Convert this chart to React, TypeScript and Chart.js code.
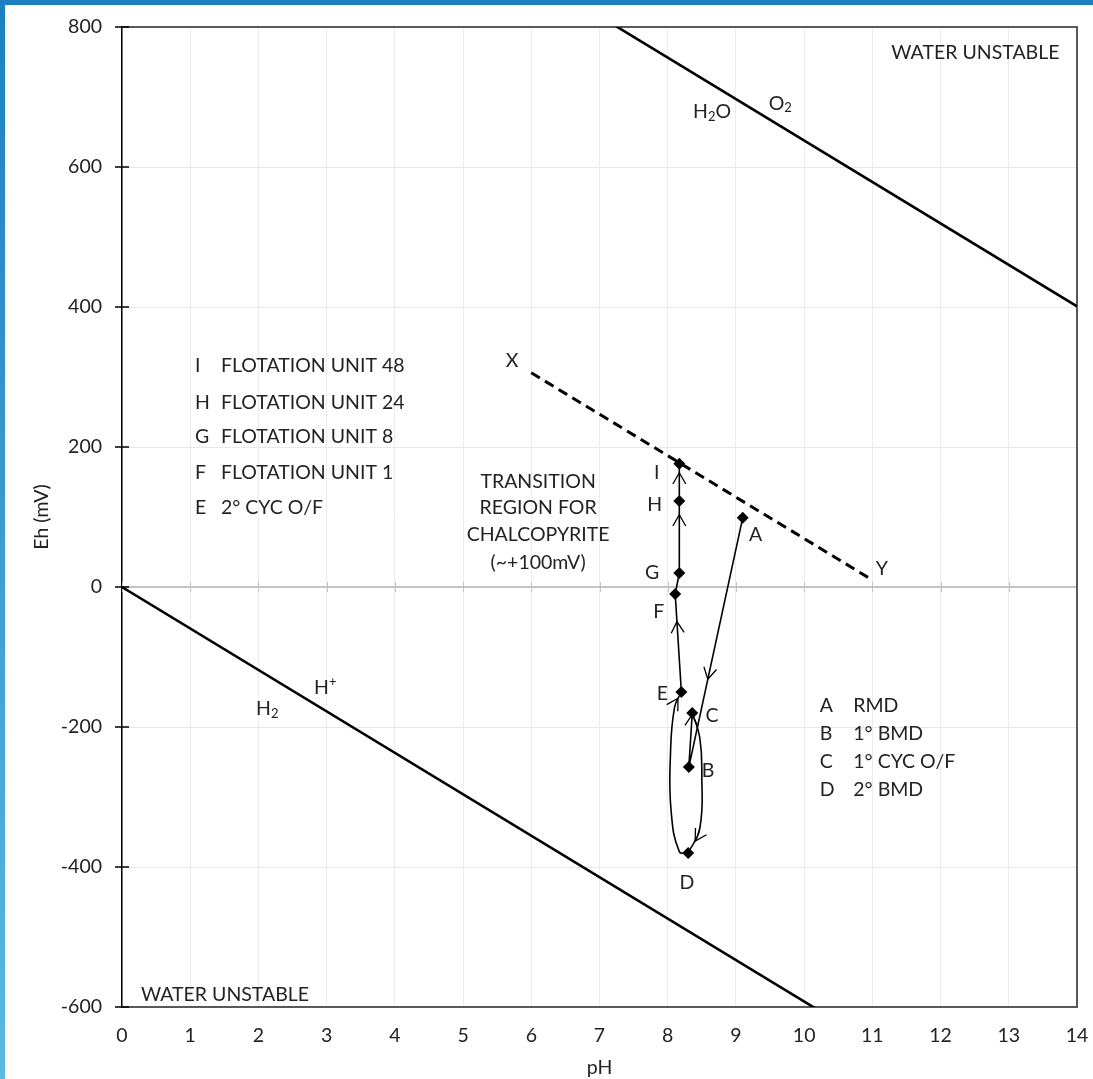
import React, { useEffect, useRef } from 'react';
import { Chart, registerables } from 'chart.js';

Chart.register(...registerables);

// ---------- data ----------
const xTicks = [0, 1, 2, 3, 4, 5, 6, 7, 8, 9, 10, 11, 12, 13, 14];
const yTicks = [-600, -400, -200, 0, 200, 400, 600, 800];

// sample points A..I (pH, Eh mV)
const pointNames = ['A', 'B', 'C', 'D', 'E', 'F', 'G', 'H', 'I'];
const pointPH = [9.1, 8.31, 8.36, 8.3, 8.2, 8.11, 8.17, 8.17, 8.17];
const pointEh = [99, -257, -180, -380, -150, -10, 20, 123, 176];

// curved connectors (intermediate path points)
const curveCDpH = [8.47, 8.5, 8.47];
const curveCDEh = [-215, -270, -345];
const curveDEpH = [8.17, 8.05, 8.04, 8.1];
const curveDEEh = [-378, -320, -240, -172];

// water stability lines
const waterPH = [0, 14];
const o2Eh = [1230, 401];
const h2Eh = [0, -829];

// X–Y chalcopyrite transition line
const xyPH = [6, 11];
const xyEh = [306, 10];

// legend texts
const leftLegendLetters = ['I', 'H', 'G', 'F', 'E'];
const leftLegendText = ['FLOTATION UNIT 48', 'FLOTATION UNIT 24', 'FLOTATION UNIT 8', 'FLOTATION UNIT 1', '2° CYC O/F'];
const rightLegendLetters = ['A', 'B', 'C', 'D'];
const rightLegendText = ['RMD', '1° BMD', '1° CYC O/F', '2° BMD'];
const transitionLines = ['TRANSITION', 'REGION FOR', 'CHALCOPYRITE', '(~+100mV)'];

// ---------- layout of annotations (data coordinates) ----------
const pointLabelPos: Record<string, [number, number]> = {
  A: [9.29, 74], B: [8.59, -263], C: [8.65, -184], D: [8.28, -423], E: [7.92, -153],
  F: [7.87, -36], G: [7.77, 20], H: [7.81, 117], I: [7.84, 163],
};
const leftLegendLayout = { letterX: 1.07, textX: 1.45, ys: [316, 263, 214, 163, 113] };
const rightLegendLayout = { letterX: 10.23, textX: 10.72, ys: [-170, -210, -250, -290] };
const transitionLayout = { x: 6.1, ys: [151, 113, 74, 34] };

const FONT = 'Lato, "Liberation Sans", sans-serif';
const FS = 19.5;
const TXT = '#222222';

const pt = (i: number) => ({ x: pointPH[i], y: pointEh[i] });
const zip = (xs: number[], ys: number[]) => xs.map((x, i) => ({ x, y: ys[i] }));

type Rich = { t: string; sub?: boolean; sup?: boolean }[];

function drawRich(ctx: CanvasRenderingContext2D, parts: Rich, cx: number, cy: number) {
  const big = `${FS}px ${FONT}`;
  const small = `${Math.round(FS * 0.68)}px ${FONT}`;
  let w = 0;
  for (const p of parts) {
    ctx.font = p.sub || p.sup ? small : big;
    w += ctx.measureText(p.t).width;
  }
  let x = cx - w / 2;
  ctx.textAlign = 'left';
  ctx.textBaseline = 'middle';
  for (const p of parts) {
    ctx.font = p.sub || p.sup ? small : big;
    const dy = p.sub ? 5 : p.sup ? -6 : 0;
    ctx.fillText(p.t, x, cy + dy);
    x += ctx.measureText(p.t).width;
  }
}

function chevron(ctx: CanvasRenderingContext2D, x: number, y: number, ang: number) {
  const len = 13;
  const spread = 0.52;
  ctx.beginPath();
  ctx.moveTo(x - len * Math.cos(ang - spread), y - len * Math.sin(ang - spread));
  ctx.lineTo(x, y);
  ctx.lineTo(x - len * Math.cos(ang + spread), y - len * Math.sin(ang + spread));
  ctx.stroke();
}

// arrows placed along dataset segments: dataset label, segment index, fraction
const arrowSpecs = [
  { ds: 'pathAC', seg: 0, t: 0.6 },
  { ds: 'pathAC', seg: 1, t: 0.9 },
  { ds: 'curveCD', seg: 3, t: 0.5 },
  { ds: 'curveDE', seg: 4, t: 0.6 },
  { ds: 'pathEI', seg: 0, t: 0.65 },
  { ds: 'pathEI', seg: 2, t: 0.72 },
  { ds: 'pathEI', seg: 3, t: 0.68 },
];

const framePlugin = {
  id: 'frame',
  beforeDatasetsDraw(chart: any) {
    const { ctx, chartArea: a, scales } = chart;
    ctx.save();
    // zero line tick crosses
    ctx.strokeStyle = '#c4c4c4';
    ctx.lineWidth = 1;
    const y0 = scales.y.getPixelForValue(0);
    for (const v of xTicks) {
      const x = Math.round(scales.x.getPixelForValue(v)) + 0.5;
      ctx.beginPath();
      ctx.moveTo(x, y0 - 5);
      ctx.lineTo(x, y0 + 5);
      ctx.stroke();
    }
    // top & right frame
    ctx.strokeStyle = '#595959';
    ctx.lineWidth = 2;
    ctx.beginPath();
    ctx.moveTo(a.left, a.top);
    ctx.lineTo(a.right, a.top);
    ctx.lineTo(a.right, a.bottom);
    ctx.stroke();
    // y-axis cross ticks
    ctx.strokeStyle = '#000';
    ctx.lineWidth = 1.5;
    for (const v of yTicks) {
      const y = Math.round(scales.y.getPixelForValue(v));
      ctx.beginPath();
      ctx.moveTo(a.left - 7, y);
      ctx.lineTo(a.left + 7, y);
      ctx.stroke();
    }
    ctx.restore();
  },
  afterDatasetsDraw(chart: any) {
    const { ctx, scales } = chart;
    const X = (v: number) => scales.x.getPixelForValue(v);
    const Y = (v: number) => scales.y.getPixelForValue(v);
    ctx.save();
    // arrows
    ctx.strokeStyle = '#000';
    ctx.lineWidth = 1.3;
    for (const s of arrowSpecs) {
      const idx = chart.data.datasets.findIndex((d: any) => d.label === s.ds);
      const els = chart.getDatasetMeta(idx).data;
      const p0 = els[s.seg];
      const p1 = els[s.seg + 1];
      const c1x = p0.cp2x ?? p0.x, c1y = p0.cp2y ?? p0.y;
      const c2x = p1.cp1x ?? p1.x, c2y = p1.cp1y ?? p1.y;
      const t = s.t, u = 1 - t;
      const bx = u * u * u * p0.x + 3 * u * u * t * c1x + 3 * u * t * t * c2x + t * t * t * p1.x;
      const by = u * u * u * p0.y + 3 * u * u * t * c1y + 3 * u * t * t * c2y + t * t * t * p1.y;
      const dx = 3 * u * u * (c1x - p0.x) + 6 * u * t * (c2x - c1x) + 3 * t * t * (p1.x - c2x);
      const dy = 3 * u * u * (c1y - p0.y) + 6 * u * t * (c2y - c1y) + 3 * t * t * (p1.y - c2y);
      chevron(ctx, bx, by, Math.atan2(dy, dx));
    }
    // texts
    ctx.fillStyle = TXT;
    ctx.font = `${FS}px ${FONT}`;
    ctx.textBaseline = 'middle';
    ctx.textAlign = 'center';
    ctx.fillText('WATER UNSTABLE', X(12.51), Y(763));
    ctx.fillText('WATER UNSTABLE', X(1.51), Y(-583));
    ctx.fillText('X', X(5.72), Y(323));
    ctx.fillText('Y', X(11.14), Y(26));
    transitionLines.forEach((s, i) => ctx.fillText(s, X(transitionLayout.x), Y(transitionLayout.ys[i])));
    pointNames.forEach((n) => {
      const [px, py] = pointLabelPos[n];
      ctx.fillText(n, X(px), Y(py));
    });
    ctx.textAlign = 'left';
    leftLegendLetters.forEach((l, i) => {
      ctx.fillText(l, X(leftLegendLayout.letterX), Y(leftLegendLayout.ys[i]));
      ctx.fillText(leftLegendText[i], X(leftLegendLayout.textX), Y(leftLegendLayout.ys[i]));
    });
    rightLegendLetters.forEach((l, i) => {
      ctx.fillText(l, X(rightLegendLayout.letterX), Y(rightLegendLayout.ys[i]));
      ctx.fillText(rightLegendText[i], X(rightLegendLayout.textX), Y(rightLegendLayout.ys[i]));
    });
    drawRich(ctx, [{ t: 'H' }, { t: '2', sub: true }, { t: 'O' }], X(8.65), Y(679));
    drawRich(ctx, [{ t: 'O' }, { t: '2', sub: true }], X(9.65), Y(691));
    drawRich(ctx, [{ t: 'H' }, { t: '2', sub: true }], X(2.13), Y(-174));
    drawRich(ctx, [{ t: 'H' }, { t: '+', sup: true }], X(2.98), Y(-144));
    ctx.restore();
  },
};

export default function App() {
  const ref = useRef<HTMLCanvasElement>(null);
  useEffect(() => {
    const canvas = ref.current;
    if (!canvas) return;
    const font = { family: FONT, size: FS };
    const lineBase = { showLine: true, pointRadius: 0, borderColor: '#000', backgroundColor: '#000' };
    const chart = new Chart(canvas, {
      type: 'scatter',
      data: {
        datasets: [
          {
            label: 'points',
            data: pointNames.map((_, i) => pt(i)),
            showLine: false,
            pointStyle: 'rectRot',
            pointRadius: 6,
            backgroundColor: '#000',
            borderColor: '#000',
            borderWidth: 0,
          },
          { ...lineBase, label: 'pathAC', data: [pt(0), pt(1), pt(2)], borderWidth: 1.6 },
          { ...lineBase, label: 'curveCD', data: [pt(2), ...zip(curveCDpH, curveCDEh), pt(3)], borderWidth: 1.6, tension: 0.45 },
          { ...lineBase, label: 'curveDE', data: [pt(3), ...zip(curveDEpH, curveDEEh), pt(4)], borderWidth: 1.6, tension: 0.45 },
          { ...lineBase, label: 'pathEI', data: [pt(4), pt(5), pt(6), pt(7), pt(8)], borderWidth: 1.6 },
          { ...lineBase, label: 'xy', data: zip(xyPH, xyEh), borderWidth: 3, borderDash: [10, 6] },
          { ...lineBase, label: 'o2', data: zip(waterPH, o2Eh), borderWidth: 2.6 },
          { ...lineBase, label: 'h2', data: zip(waterPH, h2Eh), borderWidth: 2.6 },
        ],
      },
      options: {
        responsive: false,
        animation: false,
        events: [],
        layout: { padding: { top: 27, right: 16, left: 0, bottom: 0 } },
        plugins: { legend: { display: false }, tooltip: { enabled: false } },
        scales: {
          x: {
            type: 'linear',
            min: 0,
            max: 14,
            afterBuildTicks: (s: any) => { s.ticks = xTicks.map((v) => ({ value: v })); },
            afterFit: (s: any) => { s.height = 72; s.paddingLeft = 0; s.paddingRight = 0; },
            grid: { color: '#ececec', lineWidth: 1, drawTicks: false },
            border: { color: '#595959', width: 2 },
            ticks: { font, color: TXT, padding: 17, maxRotation: 0 },
            title: { display: true, text: 'pH', font, color: TXT, padding: { top: 0, bottom: 0 } },
          },
          y: {
            type: 'linear',
            min: -600,
            max: 800,
            afterBuildTicks: (s: any) => { s.ticks = yTicks.map((v) => ({ value: v })); },
            afterFit: (s: any) => { s.width = 122; s.paddingTop = 0; s.paddingBottom = 0; },
            grid: {
              color: (c: any) => (c.tick && c.tick.value === 0 ? '#c4c4c4' : '#e8e8e8'),
              lineWidth: (c: any) => (c.tick && c.tick.value === 0 ? 2 : 1),
              drawTicks: false,
            },
            border: { color: '#000', width: 1.5 },
            ticks: { font, color: TXT, padding: 20 },
            title: { display: true, text: 'Eh (mV)', font, color: TXT, padding: { top: 30, bottom: 0 } },
          },
        },
      },
      plugins: [framePlugin],
    } as any);
    return () => chart.destroy();
  }, []);
  return (
    <div style={{ position: 'absolute', left: 0, top: 0, width: 1093, height: 1079, background: '#fff', overflow: 'hidden' }}>
      <canvas ref={ref} width={1093} height={1079} style={{ display: 'block' }} />
      <div style={{ position: 'absolute', left: 0, top: 0, width: 1093, height: 5, background: '#1d7fbf' }} />
      <div style={{ position: 'absolute', left: 0, top: 0, width: 5, height: 1079, background: 'linear-gradient(#1d7fbf, #5cb9e4)' }} />
    </div>
  );
}
